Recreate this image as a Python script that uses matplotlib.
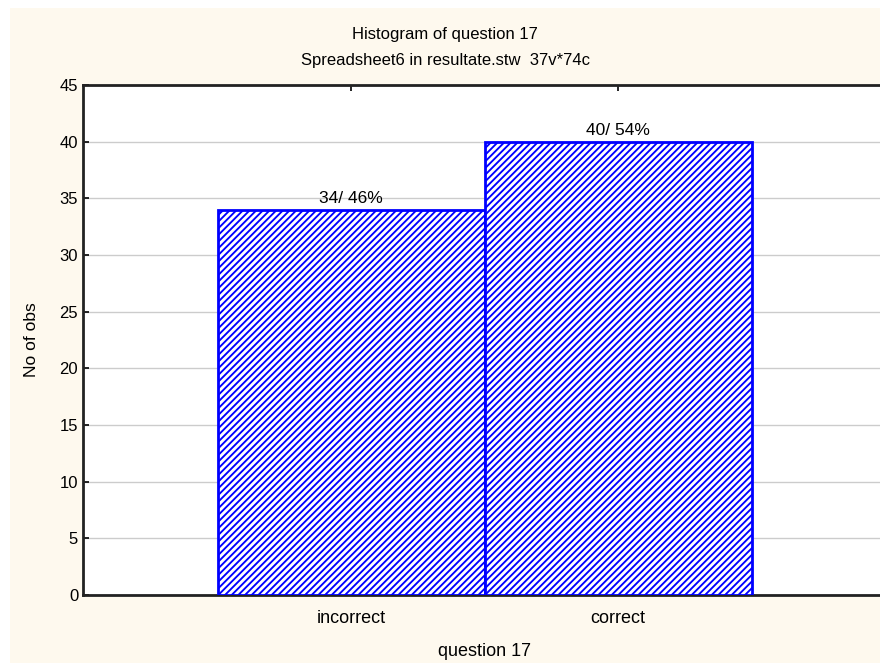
import matplotlib.pyplot as plt
import numpy as np

categories = ['incorrect', 'correct']
counts = [34, 40]
percents = [46, 54]

plt.rcParams['font.family'] = ['Liberation Sans', 'DejaVu Sans']
plt.rcParams['hatch.linewidth'] = 1.35
plt.rcParams['hatch.color'] = '#5858ff'

fig = plt.figure(figsize=(8.8, 6.63), dpi=100)
fig.patch.set_facecolor('white')
# cream page behind the plot
fig.add_artist(plt.Rectangle((10 / 880, 0), 1, 1 - 8 / 663,
                             transform=fig.transFigure,
                             facecolor='#fef9ee', edgecolor='none', zorder=-10))

ax = fig.add_axes([83 / 880, 1 - 595 / 663, 802 / 880, 510 / 663])
ax.set_facecolor('white')

x = np.arange(len(categories))
bars = ax.bar(x, counts, width=1.0, facecolor='white', edgecolor='#0000ff',
              linewidth=2, hatch='/////', zorder=3)
for xi, c, p in zip(x, counts, percents):
    ax.text(xi, c + 0.3, '%d/ %d%%' % (c, p), ha='center', va='bottom',
            fontsize=12.5, zorder=4)

ax.set_xlim(-1.005, 2.0)
ax.set_ylim(0, 45)
ax.set_yticks(np.arange(0, 46, 5))
ax.set_xticks(x)
ax.set_xticklabels(categories)
ax.yaxis.grid(True, color='#cccccc', linewidth=1, zorder=0)
ax.set_axisbelow(True)
ax.tick_params(axis='both', direction='in', labelsize=12, length=4,
               width=1.2, top=True)
ax.tick_params(axis='x', pad=11, labelsize=13)
for s in ax.spines.values():
    s.set_linewidth(2)
    s.set_color('#222222')

ax.set_xlabel('question 17', fontsize=13, labelpad=11)
ax.set_ylabel('No of obs', fontsize=12.5, labelpad=15)

fig.text(445 / 880, 1 - 35 / 663, 'Histogram of question 17',
         ha='center', va='center', fontsize=12)
fig.text(445 / 880, 1 - 60 / 663, 'Spreadsheet6 in resultate.stw  37v*74c',
         ha='center', va='center', fontsize=12)

fig.savefig('out.png', dpi=100, facecolor=fig.get_facecolor())
